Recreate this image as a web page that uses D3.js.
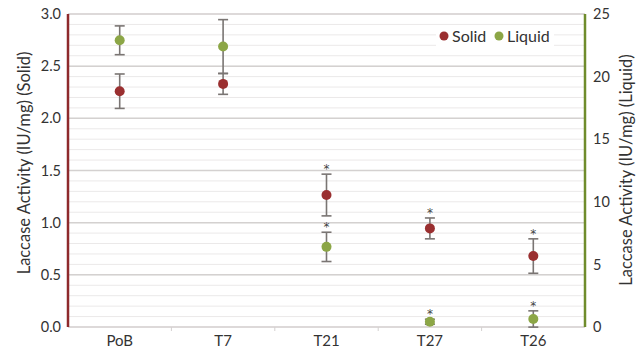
<!DOCTYPE html>
<html><head><meta charset="utf-8">
<script src="https://cdn.jsdelivr.net/npm/d3@7/dist/d3.min.js"></script>
<style>body{margin:0;background:#fff}svg{display:block}</style>
</head><body>
<svg id="c" width="644" height="350"></svg>
<script>
const categories = ["PoB","T7","T21","T27","T26"];
const solidValues = [2.26, 2.33, 1.265, 0.945, 0.68];
const solidErrors = [0.165, 0.10, 0.20, 0.10, 0.165];
const liquidValues = [22.9, 22.4, 6.4, 0.42, 0.64];
const liquidErrors = [1.15, 2.15, 1.17, 0.2, 0.65];
const solidStars = [false, false, true, true, true];
const liquidStars = [false, false, true, true, true];
const leftTicks = [0,0.5,1.0,1.5,2.0,2.5,3.0];
const rightTicks = [0,5,10,15,20,25];

const svg = d3.select("#c");
const L = 68, R = 585, T = 14, B = 327;
const font = "Lato, 'Open Sans', sans-serif";
const cRed = "#9a2f30", cGreen = "#8ca646", cErr = "#7a7573", cText = "#333";

const x = d3.scaleBand().domain(categories).range([L, R]);
const yL = d3.scaleLinear().domain([0,3]).range([B, T]);
const yR = d3.scaleLinear().domain([0,25]).range([B, T]);

// minor grid
const minor = d3.range(0, 3.0001, 0.1);
svg.append("g").selectAll("line").data(minor).join("line")
  .attr("x1", L).attr("x2", R).attr("y1", d=>yL(d)).attr("y2", d=>yL(d))
  .attr("stroke", "#ebe9e9").attr("stroke-width", 1);
svg.append("g").selectAll("line").data(leftTicks).join("line")
  .attr("x1", L).attr("x2", R).attr("y1", d=>yL(d)).attr("y2", d=>yL(d))
  .attr("stroke", "#d4d1d0").attr("stroke-width", 1.5);

// bottom axis
const xAxis = d3.axisBottom(x).tickSize(0).tickPadding(8);
const gx = svg.append("g").attr("transform", `translate(0,${B})`).call(xAxis);
gx.select(".domain").remove();
gx.selectAll("text").attr("font-family", font).attr("font-size", 15).attr("fill", cText);
svg.append("g").selectAll("line").data(categories.slice(1)).join("line")
  .attr("x1", d=>x(d)).attr("x2", d=>x(d)).attr("y1", B).attr("y2", B+4)
  .attr("stroke", "#d4d1d0");

// left axis
const gl = svg.append("g").attr("transform", `translate(${L},0)`)
  .call(d3.axisLeft(yL).tickValues(leftTicks).tickFormat(d3.format(".1f")).tickSize(0).tickPadding(7));
gl.select(".domain").remove();
gl.selectAll("text").attr("font-family", font).attr("font-size", 14.5).attr("fill", cText);
svg.append("line").attr("x1", L).attr("x2", L).attr("y1", T).attr("y2", B)
  .attr("stroke", "#8e2a2c").attr("stroke-width", 2.5);

// right axis
const gr = svg.append("g").attr("transform", `translate(${R},0)`)
  .call(d3.axisRight(yR).tickValues(rightTicks).tickSize(0).tickPadding(8));
gr.select(".domain").remove();
gr.selectAll("text").attr("font-family", font).attr("font-size", 14.5).attr("fill", cText);
svg.append("line").attr("x1", R).attr("x2", R).attr("y1", T).attr("y2", B)
  .attr("stroke", "#6f8c2c").attr("stroke-width", 2.5);

// axis titles
svg.append("text").attr("transform", `translate(24,163) rotate(-90)`)
  .attr("text-anchor", "middle").attr("dominant-baseline", "central")
  .attr("font-family", font).attr("font-size", 16.5).attr("fill", cText)
  .text("Laccase Activity (IU/mg) (Solid)");
svg.append("text").attr("transform", `translate(626,170) rotate(-90)`)
  .attr("text-anchor", "middle").attr("dominant-baseline", "central")
  .attr("font-family", font).attr("font-size", 16.5).attr("fill", cText)
  .text("Laccase Activity (IU/mg) (Liquid)");

function series(vals, errs, stars, y, color) {
  const g = svg.append("g");
  const cx = d => x(d) + x.bandwidth()/2;
  vals.forEach((v, i) => {
    const c = categories[i];
    const x0 = cx(c), top = y(v + errs[i]), bot = y(v - errs[i]);
    g.append("line").attr("x1", x0).attr("x2", x0).attr("y1", top).attr("y2", bot).attr("stroke", cErr).attr("stroke-width", 1.6);
    g.append("line").attr("x1", x0-5).attr("x2", x0+5).attr("y1", top).attr("y2", top).attr("stroke", cErr).attr("stroke-width", 1.6);
    g.append("line").attr("x1", x0-5).attr("x2", x0+5).attr("y1", bot).attr("y2", bot).attr("stroke", cErr).attr("stroke-width", 1.6);
    g.append("circle").attr("cx", x0).attr("cy", y(v)).attr("r", 5).attr("fill", color);
    if (stars[i]) {
      g.append("text").attr("x", x0).attr("y", top - 1).attr("text-anchor", "middle")
        .attr("font-family", "'DejaVu Sans', sans-serif").attr("font-size", 12).attr("fill", "#444").text("*");
    }
  });
}
series(solidValues, solidErrors, solidStars, yL, cRed);
series(liquidValues, liquidErrors, liquidStars, yR, cGreen);

// legend
const lg = svg.append("g");
lg.append("rect").attr("x", 436).attr("y", 25).attr("width", 118).attr("height", 21).attr("fill", "#fff");
lg.append("circle").attr("cx", 444).attr("cy", 36).attr("r", 4.5).attr("fill", cRed);
lg.append("text").attr("x", 452).attr("y", 41.5).attr("font-family", font).attr("font-size", 16).attr("fill", cText).text("Solid");
lg.append("circle").attr("cx", 499).attr("cy", 36).attr("r", 4.5).attr("fill", cGreen);
lg.append("text").attr("x", 507).attr("y", 41.5).attr("font-family", font).attr("font-size", 16).attr("fill", cText).text("Liquid");
</script>
</body></html>
